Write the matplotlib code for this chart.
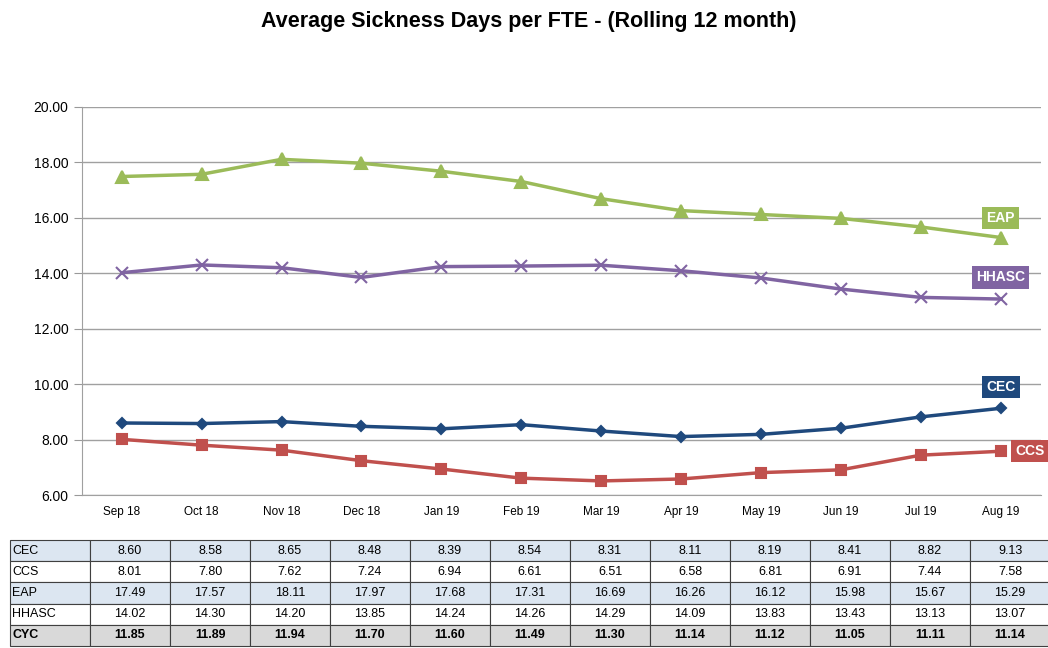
import numpy as np
import matplotlib.pyplot as plt

months = ['Sep 18', 'Oct 18', 'Nov 18', 'Dec 18', 'Jan 19', 'Feb 19',
          'Mar 19', 'Apr 19', 'May 19', 'Jun 19', 'Jul 19', 'Aug 19']
cec = [8.60, 8.58, 8.65, 8.48, 8.39, 8.54, 8.31, 8.11, 8.19, 8.41, 8.82, 9.13]
ccs = [8.01, 7.80, 7.62, 7.24, 6.94, 6.61, 6.51, 6.58, 6.81, 6.91, 7.44, 7.58]
eap = [17.49, 17.57, 18.11, 17.97, 17.68, 17.31, 16.69, 16.26, 16.12, 15.98, 15.67, 15.29]
hhasc = [14.02, 14.30, 14.20, 13.85, 14.24, 14.26, 14.29, 14.09, 13.83, 13.43, 13.13, 13.07]
cyc = [11.85, 11.89, 11.94, 11.70, 11.60, 11.49, 11.30, 11.14, 11.12, 11.05, 11.11, 11.14]

plt.rcParams['font.family'] = ['Liberation Sans', 'DejaVu Sans']

fig = plt.figure(figsize=(10.48, 6.48), dpi=100)
ax = fig.add_axes([0.078, 0.236, 0.915, 0.599])

x = np.arange(len(months))
series = [
    ('EAP', eap, '#9BBB59', '^', 8),
    ('HHASC', hhasc, '#8064A2', 'x', 8),
    ('CEC', cec, '#1F497D', 'D', 5.5),
    ('CCS', ccs, '#C0504D', 's', 7),
]
for name, vals, col, mk, ms in series:
    ax.plot(x, vals, color=col, lw=2.5, marker=mk, ms=ms, mew=1.5)

ax.set_xlim(-0.5, 11.5)
ax.set_ylim(6, 20)
ax.set_yticks(np.arange(6, 21, 2))
ax.set_yticklabels([f'{v:.2f}' for v in np.arange(6, 21, 2)], fontsize=10)
ax.set_xticks(x)
ax.set_xticklabels(months, fontsize=8.5)
ax.tick_params(axis='x', length=0, pad=8)
ax.tick_params(axis='y', length=6, color='#999999')
ax.yaxis.grid(True, color='#A0A0A0', lw=1)
ax.set_axisbelow(True)
for s in ['top', 'right']:
    ax.spines[s].set_visible(False)
ax.spines['left'].set_color('#A0A0A0')
ax.spines['bottom'].set_color('#A0A0A0')

# end labels
labels = [('EAP', 11, 16.0, '#9BBB59'), ('HHASC', 11, 13.85, '#8064A2'),
          ('CEC', 11, 9.9, '#1F497D'), ('CCS', 11.37, 7.58, '#C0504D')]
for txt, lx, ly, col in labels:
    ax.text(lx, ly, txt, color='white', fontsize=10, fontweight='bold',
            ha='center', va='center', clip_on=False,
            bbox=dict(boxstyle='square,pad=0.3', fc=col, ec='none'))

fig.text(0.505, 0.967, 'Average Sickness Days per FTE - (Rolling 12 month)',
         ha='center', va='center', fontsize=15.5, fontweight='bold')

# data table
row_names = ['CEC', 'CCS', 'EAP', 'HHASC', 'CYC']
rows = [cec, ccs, eap, hhasc, cyc]
row_colors = ['#DCE6F1', 'white', '#DCE6F1', 'white', '#D9D9D9']
tax = fig.add_axes([10 / 1048, 2 / 648, 1040 / 1048, 106 / 648])
tax.axis('off')
cells = [[name] + [f'{v:.2f}' for v in vals] for name, vals in zip(row_names, rows)]
colw = [80 / 1040] + [80 / 1040] * 12
tbl = tax.table(cellText=cells, bbox=[0, 0, 1, 1], colWidths=colw, cellLoc='center')
tbl.auto_set_font_size(False)
tbl.set_fontsize(9)
for (r, c), cell in tbl.get_celld().items():
    cell.set_facecolor(row_colors[r])
    cell.set_edgecolor('#404040')
    cell.set_linewidth(0.8)
    if c == 0:
        cell.set_text_props(ha='left')
        cell.PAD = 0.03
    if r == 4:
        cell.set_text_props(fontweight='bold')

fig.savefig('out.png', dpi=100)
